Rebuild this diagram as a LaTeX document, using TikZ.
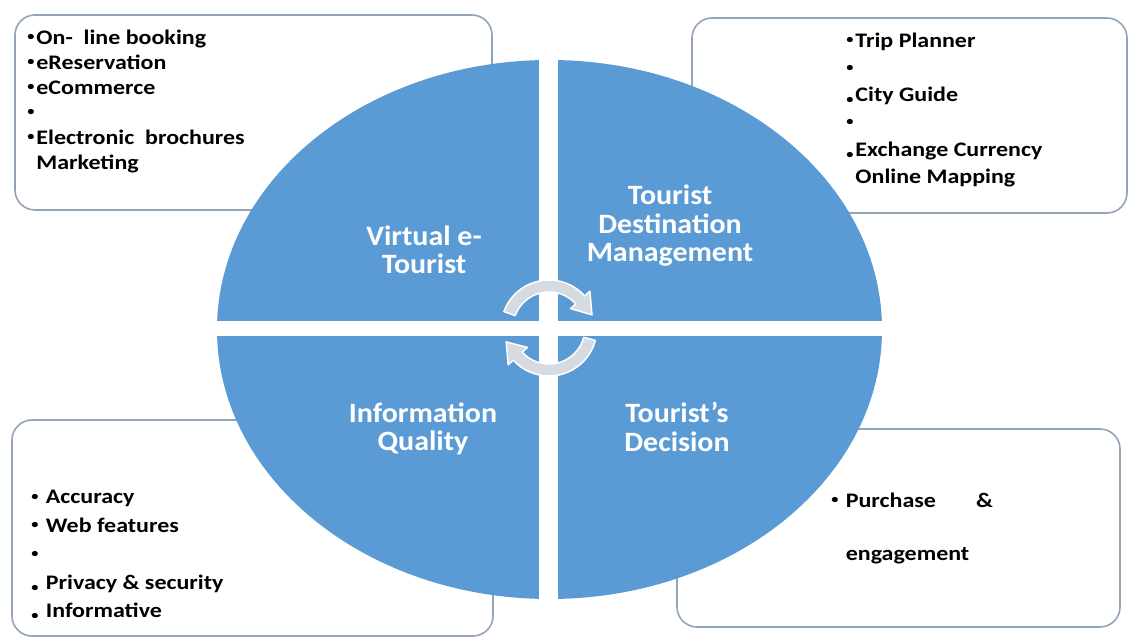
\documentclass[tikz,border=0pt]{standalone}
\usepackage{fontspec}
\setmainfont{Carlito}
\newfontfamily\listfont[FakeStretch=1.16]{Carlito}
\newfontfamily\headfont[FakeStretch=1.07]{Carlito}
\usetikzlibrary{positioning, calc}
\definecolor{quadfill}{HTML}{5B9BD5}
\definecolor{boxdraw}{HTML}{93A4B6}
\definecolor{cycfill}{HTML}{D6DBE1}
\newcommand{\px}{0.75pt}
\newcommand{\bul}{\raisebox{0.35ex}{\scalebox{0.6}{\textbullet}}\hspace{1.5pt}}
\newcommand{\lowbul}{\raisebox{-1.5pt}{\scalebox{0.6}{\textbullet}}\hspace{1.5pt}}
\tikzset{
  infobox/.style={rectangle, rounded corners=15pt, draw=boxdraw, line width=1.2pt, fill=white, inner sep=0pt},
  itemlist/.style={align=left, inner sep=0pt, anchor=west, text=black, font=\listfont\bfseries\fontsize{15.5}{#1}\selectfont},
  itemlist/.default=18.75,
  quadlab/.style={align=center, inner sep=0pt, text=white, font=\headfont\bfseries\fontsize{21}{21.4}\selectfont},
  cycarrow/.style={fill=cycfill, draw=white, line width=1.1pt, line join=round},
}

\begin{document}
\begin{tikzpicture}[x=0.75pt, y=-0.75pt]
  \useasboundingbox (0,0) rectangle (1129,639);

  % side boxes, drawn first so the ellipse sits on top
  \node[infobox, minimum width=477*\px, minimum height=195*\px] (ebox) at (253.5,112.5) {};
  \node[infobox, minimum width=435*\px, minimum height=195*\px] (tbox) at (909.5,115.5) {};
  \node[infobox, minimum width=481*\px, minimum height=216*\px] (qbox) at (252.5,528) {};
  \node[infobox, minimum width=443*\px, minimum height=198*\px] (dbox) at (898.5,528) {};

  % the four quadrants: one ellipse cut by a white cross
  \fill[quadfill] (549.5,329.5) ellipse [x radius=332.5, y radius=269.5];
  \fill[white] (539,50) rectangle (558,610);
  \fill[white] (205,321) rectangle (895,336);

  % cycle arrows in the middle
  \coordinate (hub) at (549,328);
  \filldraw[cycarrow] ($(hub)+(-160:48)$) arc[start angle=-160, end angle=-42, radius=48]
    -- ($(hub)+(-42:55)$) -- ($(hub)+(-17:45)$) -- ($(hub)+(-42:29)$) -- ($(hub)+(-42:36)$)
    arc[start angle=-42, end angle=-160, radius=36] -- cycle;
  \filldraw[cycarrow] ($(hub)+(15:48)$) arc[start angle=15, end angle=138, radius=48]
    -- ($(hub)+(138:55)$) -- ($(hub)+(162:45)$) -- ($(hub)+(138:29)$) -- ($(hub)+(138:36)$)
    arc[start angle=138, end angle=15, radius=36] -- cycle;

  % quadrant titles
  \node[quadlab] (vtour) at (424,250) {Virtual e-\\Tourist};
  \node[quadlab] (tdm) at (670,226) {Tourist\\Destination\\Management};
  \node[quadlab] (iq) at (423,429) {Information\\Quality};
  \node[quadlab] (tdec) at (677,427) {Tourist’s\\Decision};

  % box contents
  \node[itemlist] (etext) at (27,101) {\bul On-\ \ line booking\\ \bul eReservation\\ \bul eCommerce\\ \bul\\ \bul Electronic\ \ brochures\\ \phantom{\bul}Marketing};
  \node[itemlist=20.4] (ttext) at (846,110) {\bul Trip Planner\\ \bul\\ \lowbul City Guide\\ \bul\\ \lowbul Exchange Currency\\ \phantom{\bul}Online Mapping};
  \node[itemlist=21.4] (qtext) at (31,555) {\bul\ Accuracy\\ \bul\ Web features\\ \bul\\ \lowbul\ Privacy \& security\\ \lowbul\ Informative};
  \node[itemlist=39.75] (dtext) at (831,528.5) {\bul\ Purchase\hspace{30pt}\&\\ \phantom{\bul\ }engagement};
\end{tikzpicture}
\end{document}
